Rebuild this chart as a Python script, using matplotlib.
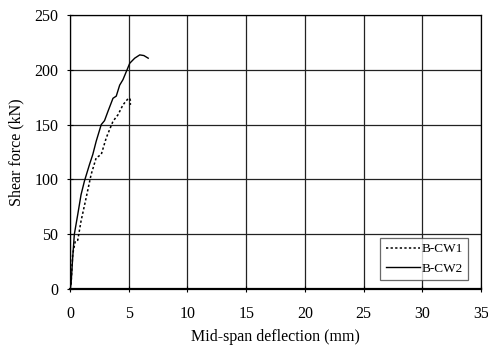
import matplotlib
matplotlib.use('Agg')
import matplotlib.pyplot as plt

plt.rcParams['font.family'] = ['Liberation Serif', 'DejaVu Serif']

# B-CW1 (dotted)
cw1_x = [0.0, 0.09, 0.23, 0.46, 0.66, 0.94, 1.37, 1.80, 2.23, 2.66, 3.09, 3.66, 4.09, 4.51, 4.94, 5.09, 5.14, 5.14]
cw1_y = [0.0, 4.5, 31.8, 44.0, 44.5, 62.0, 83.0, 104.5, 119.7, 122.7, 138.0, 153.0, 159.0, 168.0, 173.6, 174.0, 172.0, 168.0]

# B-CW2 (solid)
cw2_x = [0.0, 0.09, 0.23, 0.37, 0.66, 0.94, 1.23, 1.66, 1.94, 2.23, 2.66, 2.94, 3.23, 3.66, 3.94, 4.23, 4.51, 4.80, 5.09, 5.51, 5.94, 6.29, 6.66]
cw2_y = [0.0, 4.5, 28.8, 50.0, 68.0, 86.0, 98.5, 113.6, 122.7, 134.8, 150.0, 153.6, 162.0, 174.0, 176.0, 186.0, 191.0, 198.5, 206.0, 210.6, 213.6, 213.0, 210.6]

x_ticks = [0, 5, 10, 15, 20, 25, 30, 35]
y_ticks = [0, 50, 100, 150, 200, 250]

fig = plt.figure(figsize=(4.89, 3.52), dpi=100)
ax = fig.add_axes([70 / 489, 63 / 352, 411 / 489, 274 / 352])

ax.plot(cw1_x, cw1_y, color='black', linestyle=(0, (1.5, 1.5)), linewidth=1.1, label='B-CW1')
ax.plot(cw2_x, cw2_y, color='black', linestyle='-', linewidth=1.0, label='B-CW2')

ax.set_xlim(0, 35)
ax.set_ylim(0, 250)
ax.set_xticks(x_ticks)
ax.set_yticks(y_ticks)
ax.grid(True, color='#222222', linewidth=0.9)
ax.set_axisbelow(True)
ax.tick_params(direction='inout', length=5, width=0.8, labelsize=11.5)
ax.tick_params(axis='x', pad=10)
ax.tick_params(axis='y', pad=6)
for s in ax.spines.values():
    s.set_linewidth(0.9)
ax.spines['bottom'].set_linewidth(1.6)

ax.set_xlabel('Mid-span deflection (mm)', fontsize=11.5, labelpad=5)
ax.set_ylabel('Shear force (kN)', fontsize=11.5, labelpad=7)

leg = ax.legend(loc='lower right', bbox_to_anchor=(0.968, 0.033), fontsize=9.5,
                frameon=True, fancybox=False, edgecolor='#444444',
                handlelength=2.6, borderpad=0.4, labelspacing=0.55,
                handletextpad=0.1, borderaxespad=0.0)
leg.get_frame().set_linewidth(0.9)

fig.savefig('out.png', dpi=100, facecolor='white')
